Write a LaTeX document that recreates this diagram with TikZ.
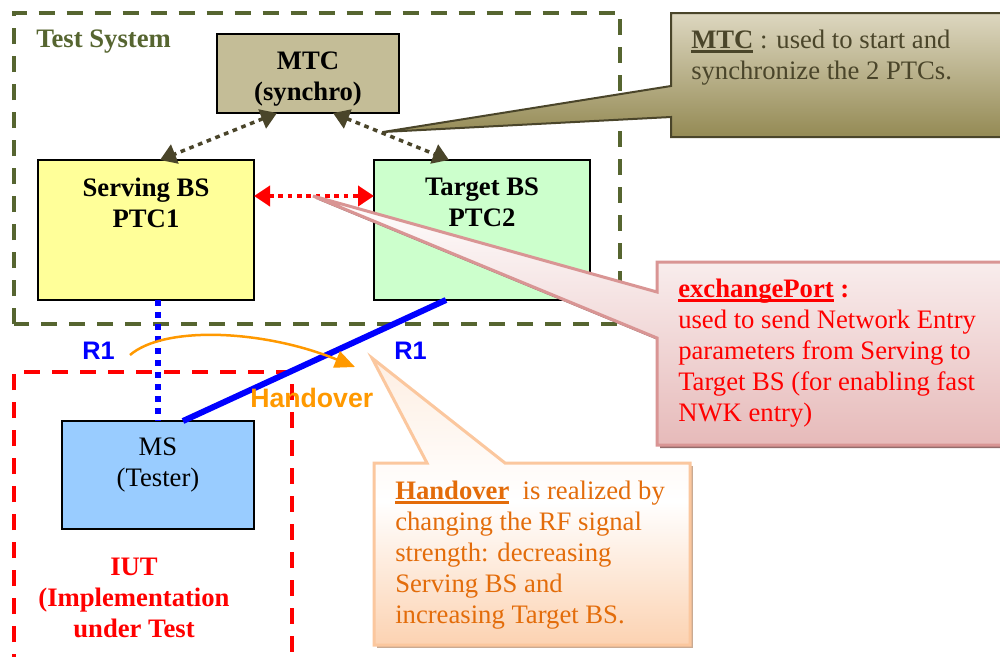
\documentclass[tikz,border=0pt]{standalone}
\usepackage{fontspec}
\setmainfont{Liberation Serif}
\setsansfont{Liberation Sans}
\usetikzlibrary{arrows.meta}
\newdimen\px \px=0.75pt
\definecolor{tsgreen}{HTML}{566530}
\definecolor{mtcfill}{HTML}{C4BD97}
\definecolor{mtcdark}{HTML}{4A452A}
\definecolor{servfill}{HTML}{FFFF99}
\definecolor{targfill}{HTML}{CCFFCC}
\definecolor{msfill}{HTML}{99CCFF}
\definecolor{hoorange}{HTML}{FF9900}
\definecolor{hotext}{HTML}{E36C0A}
\definecolor{hoedge}{HTML}{FBC79E}
\definecolor{exedge}{HTML}{D99594}
\definecolor{mtctop}{HTML}{DDD7C0}
\definecolor{mtcbot}{HTML}{948A54}
\newcommand{\ulin}[1]{\setbox0\hbox{#1}\rlap{\vrule width\wd0 height -1.6pt depth 3.4pt}\box0\relax}
\newcommand{\topbox}[4]{\parbox[t][#2\px][t]{#1\px}{\vspace*{#3\px}\centering #4\par}}
\tikzset{
  x=0.75pt,y=-0.75pt,
  txt/.style={font=\fontsize{20}{23.25}\selectfont},
  block/.style={draw=black,line width=2\px,inner sep=0pt,outer sep=0pt,txt},
  frame/.style={line width=4\px,dash pattern=on 12pt off 9pt},
  syncarrow/.style={draw=mtcdark,line width=3.5\px,dash pattern=on 3.5pt off 3.5pt,{Triangle[length=12pt,width=15pt,fill=mtcdark]}-{Triangle[length=12pt,width=15pt,fill=mtcdark]}},
  note/.style={inner sep=0pt,anchor=base west,align=left,txt},
  sanslabel/.style={inner sep=0pt,font=\sffamily\bfseries\fontsize{19}{22}\selectfont},
}
\begin{document}
\begin{tikzpicture}
\useasboundingbox (0,0) rectangle (1000,657);
\clip (0,0) rectangle (1000,657);
\fill[white] (0,0) rectangle (1000,657);
% frames
\draw[frame,draw=tsgreen] (14,324) -- (14,12.5) -- (620,12.5) -- (620,324) -- cycle;
\draw[frame,draw=red] (14,670) -- (14,372) -- (292,372) -- (292,670);
\node[inner sep=0pt,anchor=base west,text=tsgreen,font=\bfseries\fontsize{20}{22}\selectfont] (tslabel) at (36,47) {Test System};
% blocks
\node[block,fill=mtcfill] (mtc) at (308,73.5) {\topbox{182}{79}{18}{\bfseries MTC\\(synchro)}};
\node[block,fill=servfill] (serving) at (146,230) {\topbox{216}{140}{18}{\bfseries Serving BS\\PTC1}};
\node[block,fill=targfill] (target) at (482,230) {\topbox{216}{140}{18}{\bfseries Target BS\\PTC2}};
\node[block,fill=msfill] (ms) at (158,475) {\topbox{192}{108}{17}{MS\\(Tester)}};
% connectors
\draw[syncarrow] ([xshift=-31\px]mtc.south) -- ([xshift=14\px]serving.north);
\draw[syncarrow] ([xshift=25\px]mtc.south) -- ([xshift=-33\px]target.north);
\draw[draw=red,line width=4\px,dash pattern=on 3.5pt off 3.5pt,{Triangle[length=12pt,width=15pt,fill=red]}-{Triangle[length=12pt,width=15pt,fill=red]}]
  ([yshift=-36\px]serving.north east) -- ([yshift=-36\px]target.north west);
\draw[blue,line width=6\px,dash pattern=on 4.5pt off 4.5pt] (serving.south-|ms.north) -- (ms.north);
\draw[blue,line width=6\px] ([xshift=25\px]ms.north) -- ([xshift=-36\px]target.south);
% labels
\node[sanslabel,text=blue,anchor=base west] (r1a) at (82,359) {R1};
\node[sanslabel,text=blue,anchor=base west] (r1b) at (394,359) {R1};
\coordinate (hostart) at (130,355);
\coordinate (hoend) at (355,367);
\draw[hoorange,line width=2.5\px,-{Triangle[length=15pt,width=13pt]}] (hostart) .. controls (165,325) and (265,330) .. (hoend);
\node[sanslabel,font=\sffamily\bfseries\fontsize{20}{22}\selectfont,text=hoorange,anchor=base west] (holabel) at (250,407) {Handover};
\node[inner sep=0pt,anchor=base,text=red,align=center,font=\bfseries\fontsize{20}{23.25}\selectfont] (iut) at (134,637) {IUT\\(Implementation\\under Test};
% MTC callout
\path[draw=mtcdark,line width=2\px,top color=mtctop,bottom color=mtcbot]
  (383,132) -- (671,86) -- (671,13) -- (1006,13) -- (1006,137) -- (671,137) -- (671,117) -- cycle;
\node[note,text=mtcdark] (mtcnote) at (691,79) {\ulin{\bfseries MTC} : used to start and\\synchronize the 2 PTCs.};
% exchange callout
\fill[black!30!exedge!85!gray] (316,199) -- (660,295) -- (660,265) -- (1006,265) -- (1006,448) -- (660,448) -- (660,341) -- cycle;
\path[draw=exedge,line width=3\px,top color=white,bottom color=exedge!65!white]
  (313,196) -- (657,292) -- (657,262) -- (1006,262) -- (1006,445) -- (657,445) -- (657,338) -- cycle;
\node[note,text=red] (exnote) at (678,421) {\ulin{\bfseries exchangePort} \textbf{:}\\used to send Network Entry\\parameters from Serving to\\Target BS (for enabling fast\\NWK entry)};
% handover callout
\fill[hoedge!60!gray] (377,466) -- (693,466) -- (693,648) -- (377,648) -- cycle;
\path[draw=hoedge,line width=3\px,top color=hoedge!30!white,bottom color=hoedge!80!white,middle color=white]
  (372,358) -- (505,463) -- (690,463) -- (690,645) -- (374,645) -- (374,463) -- (427,463) -- cycle;
\node[note,text=hotext] (honote) at (395,623) {\ulin{\bfseries Handover}\ \ is realized by\\changing the RF signal\\strength: decreasing\\Serving BS and\\increasing Target BS.};
\end{tikzpicture}
\end{document}
